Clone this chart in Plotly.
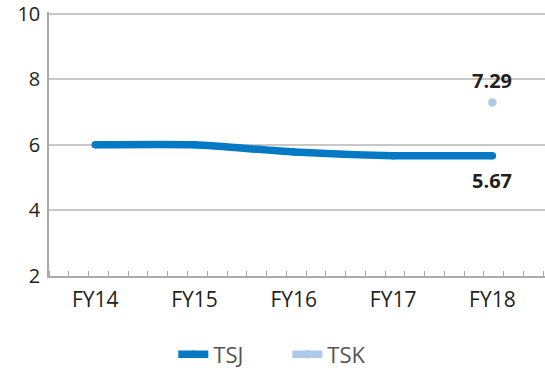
import plotly.graph_objects as go

categories = ["FY14", "FY15", "FY16", "FY17", "FY18"]
tsj_values = [6.00, 6.00, 5.78, 5.67, 5.67]
tsk_values = [None, None, None, None, 7.29]
y_ticks = [2, 4, 6, 8, 10]

x_idx = list(range(len(categories)))

TSJ_COLOR = "#0579c4"
TSK_COLOR = "#aec9ea"
TEXT = "#231f20"
FONT = "Open Sans"

fig = go.Figure()
fig.add_trace(go.Scatter(
    x=x_idx, y=tsj_values, name="TSJ", mode="lines+markers",
    line=dict(color=TSJ_COLOR, width=7.5, shape="spline", smoothing=0.6),
    marker=dict(color=TSJ_COLOR, size=7.5, line=dict(width=0)),
    hoverinfo="skip",
))
fig.add_trace(go.Scatter(
    x=x_idx, y=tsk_values, name="TSK", mode="lines+markers",
    line=dict(color=TSK_COLOR, width=7.5),
    marker=dict(color=TSK_COLOR, size=8.5, line=dict(width=0)),
    hoverinfo="skip",
))

last = len(categories) - 1
fig.add_annotation(x=x_idx[last], y=tsk_values[last], text=f"{tsk_values[last]:.2f}",
                   showarrow=False, yshift=22, xref="x", yref="y",
                   font=dict(family=FONT, size=20, color=TEXT, weight="bold"))
fig.add_annotation(x=x_idx[last], y=tsj_values[last], text=f"{tsj_values[last]:.2f}",
                   showarrow=False, yshift=-25, xref="x", yref="y",
                   font=dict(family=FONT, size=20, color=TEXT, weight="bold"))

fig.update_layout(
    width=545, height=372,
    margin=dict(l=49, r=0, t=9.4, b=96),
    paper_bgcolor="white", plot_bgcolor="white",
    font=dict(family=FONT, color=TEXT),
    showlegend=True,
    legend=dict(orientation="h", xref="container", yref="container",
                x=0.318, y=0.047, xanchor="left", yanchor="middle",
                font=dict(family=FONT, size=22, color="#555555"),
                entrywidth=69, entrywidthmode="pixels",
                bgcolor="rgba(0,0,0,0)"),
    xaxis=dict(
        range=[-0.466, 4.53], tickmode="array", tickvals=x_idx, ticktext=categories,
        ticks="", showgrid=False, zeroline=False,
        showline=True, linecolor="#aaaaaa", linewidth=1.5,
        tickfont=dict(family=FONT, size=21, color=TEXT),
        ticklabelstandoff=4,
        minor=dict(ticks="inside", ticklen=5, tickwidth=1, tickcolor="#aaaaaa",
                   tickmode="linear", tick0=-0.265, dtick=0.199, showgrid=False),
    ),
    yaxis=dict(
        range=[2, 10.05], tickmode="array", tickvals=y_ticks,
        ticks="", showgrid=True, gridcolor="#c8c8c8", gridwidth=1.5,
        zeroline=False, showline=True, linecolor="#aaaaaa", linewidth=1.5,
        tickfont=dict(family=FONT, size=20, color=TEXT),
        ticklabelstandoff=3, ticklabeloverflow="allow",
    ),
)

fig.write_html("out.html", config={"displayModeBar": False},
               post_script="document.body.style.margin='0';document.body.style.overflow='hidden';")
